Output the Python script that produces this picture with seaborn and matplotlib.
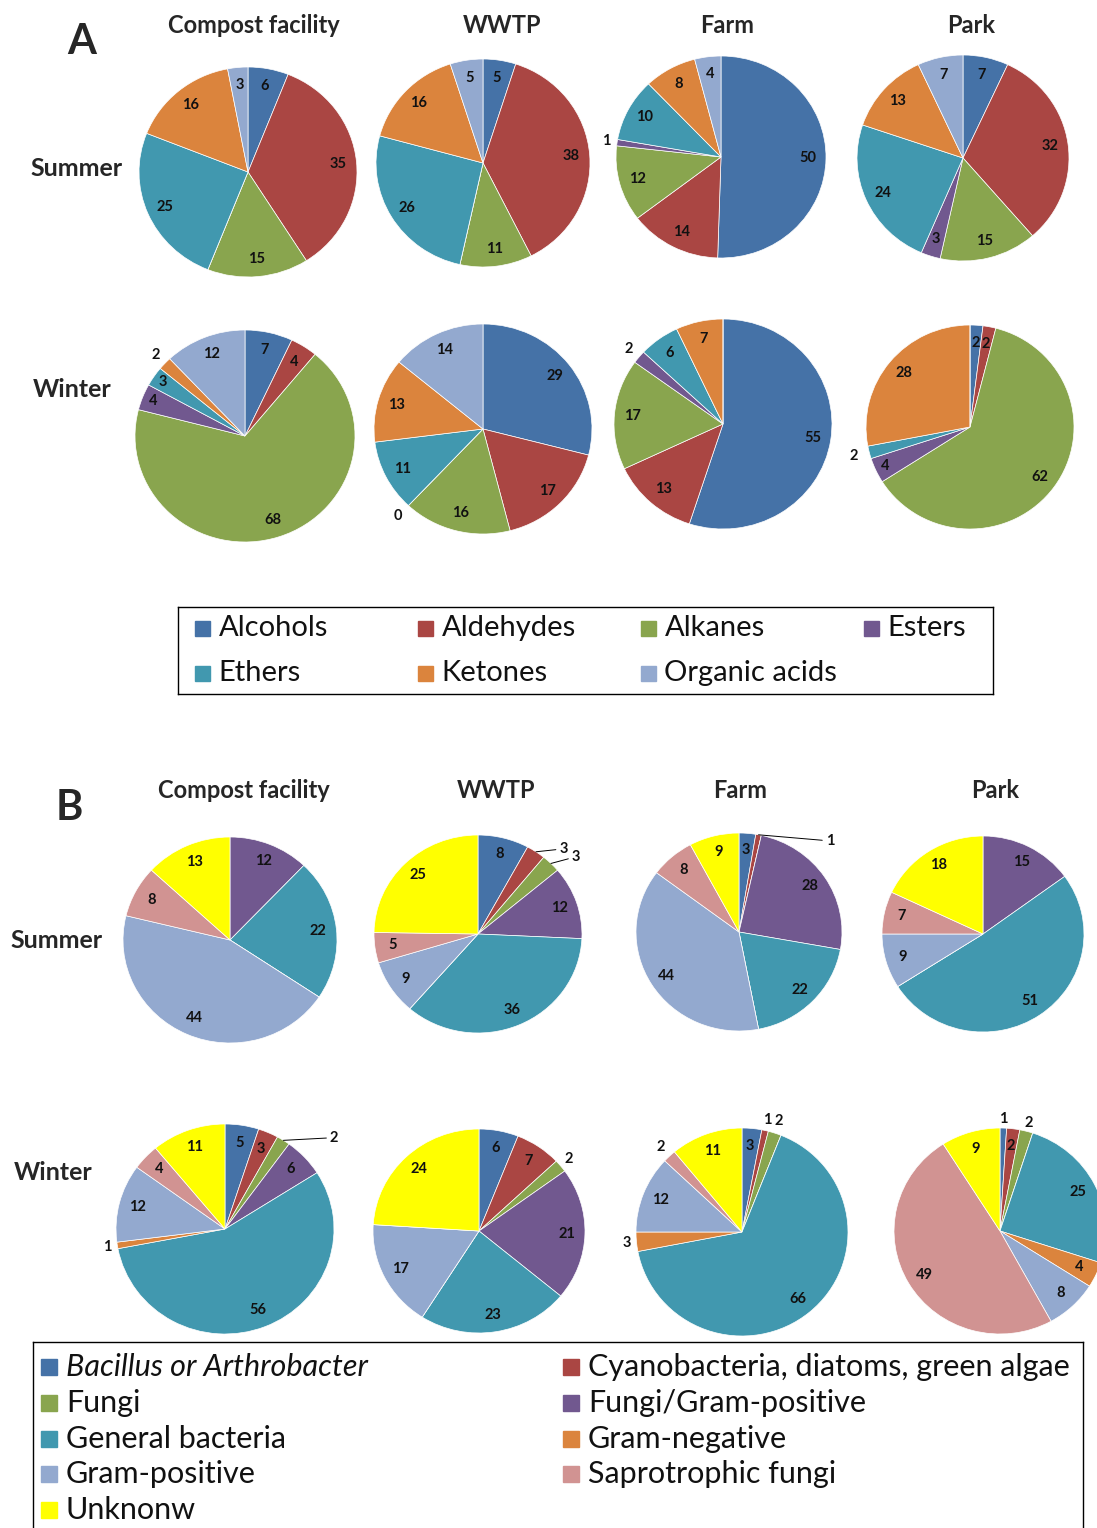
import numpy as np
import matplotlib.pyplot as plt
from matplotlib.patches import Rectangle
import seaborn as sns

sns.set_theme(style='white')
plt.rcParams['font.family'] = ['Lato', 'DejaVu Sans']

W, H = 1097, 1528

sites = ['Compost facility', 'WWTP', 'Farm', 'Park']
seasons = ['Summer', 'Winter']

# A: chemical groups of the VOCs (%)
voc_groups = ['Alcohols', 'Aldehydes', 'Alkanes', 'Esters', 'Ethers', 'Ketones', 'Organic acids']
voc_summer = [[6, 35, 15, 0, 25, 16, 3],
              [5, 38, 11, 0, 26, 16, 5],
              [50, 14, 12, 1, 10, 8, 4],
              [7, 32, 15, 3, 24, 13, 7]]
voc_winter = [[7, 4, 68, 4, 3, 2, 12],
              [29, 17, 16, 0, 11, 13, 14],
              [55, 13, 17, 2, 6, 7, 0],
              [2, 2, 62, 4, 2, 28, 0]]

# B: microbial origin of the MVOCs (%)
mvoc_groups = ['Bacillus or Arthrobacter', 'Cyanobacteria, diatoms, green algae', 'Fungi',
               'Fungi/Gram-positive', 'General bacteria', 'Gram-negative', 'Gram-positive',
               'Saprotrophic fungi', 'Unknonw']
mvoc_summer = [[0, 0, 0, 12, 22, 0, 44, 8, 13],
               [8, 3, 3, 12, 36, 0, 9, 5, 25],
               [3, 1, 0, 28, 22, 0, 44, 8, 9],
               [0, 0, 0, 15, 51, 0, 9, 7, 18]]
mvoc_winter = [[5, 3, 2, 6, 56, 1, 12, 4, 11],
               [6, 7, 2, 21, 23, 0, 17, 0, 24],
               [3, 1, 2, 0, 66, 3, 12, 2, 11],
               [1, 2, 2, 0, 25, 4, 8, 49, 9]]

excel = ['#4572A7', '#AA4643', '#89A54E', '#71588F', '#4198AF', '#DB843D', '#93A9CF']
voc_colors = excel
mvoc_colors = excel[:4] + ['#4198AF', '#DB843D', '#93A9CF', '#D19392', '#FFFF00']

# pie layout in pixels: centre x, centre y, radius x, radius y
pie_px = {
    ('A', 'Summer'): [(248, 172, 109, 105), (483, 163, 107, 104), (721, 157, 105, 101), (963, 158, 106, 103)],
    ('A', 'Winter'): [(245, 436, 110, 106), (483, 429, 109, 105), (723, 424, 109, 105), (970, 427, 104, 102)],
    ('B', 'Summer'): [(230, 940, 107, 103), (478, 934, 104, 99), (739, 932, 103, 99), (983, 934, 101, 98)],
    ('B', 'Winter'): [(225, 1229, 109, 105), (479, 1231, 106, 102), (742, 1232, 106, 104), (1000, 1231, 106, 103)],
}

# labels that sit away from the default radius
label_dist = {
    ('A', 'Summer', 2): {3: 1.1},
    ('A', 'Winter', 0): {3: 0.9, 4: 0.9, 5: 1.12},
    ('A', 'Winter', 1): {3: 1.14},
    ('A', 'Winter', 2): {3: 1.12},
    ('A', 'Winter', 3): {3: 0.9, 4: 1.15},
    ('B', 'Winter', 0): {5: 1.09},
    ('B', 'Winter', 1): {2: 1.1},
    ('B', 'Winter', 2): {1: 1.1, 2: 1.12, 5: 1.09, 7: 1.12},
    ('B', 'Winter', 3): {0: 1.09, 2: 1.08},
}
# labels with a leader line: slice index, text position (axes units)
leaders = {
    ('B', 'Summer', 1): [(1, 0.78, 0.86), (2, 0.90, 0.78)],
    ('B', 'Summer', 2): [(1, 0.84, 0.92)],
    ('B', 'Winter', 0): [(2, 0.96, 0.87)],
}


def px_rect(x0, y0, x1, y1):
    return [x0 / W, 1 - y1 / H, (x1 - x0) / W, (y1 - y0) / H]


fig = plt.figure(figsize=(W / 100, H / 100), dpi=100)
lab_kw = dict(fontsize=10.5, fontweight='bold', color='#111111')


def draw_pie(panel, season, j, vals, colors):
    cx, cy, rx, ry = pie_px[(panel, season)][j]
    ax = fig.add_axes(px_rect(cx - rx, cy - ry, cx + rx, cy + ry))
    wedges, _ = ax.pie(vals, colors=colors, startangle=90, counterclock=False,
                       wedgeprops=dict(edgecolor='white', linewidth=0.5))
    ax.set_aspect('auto')
    ax.set_xlim(-1, 1)
    ax.set_ylim(-1, 1)
    ax.axis('off')
    key = (panel, season, j)
    dist = label_dist.get(key, {})
    lead = {i: (x, y) for i, x, y in leaders.get(key, [])}
    for i, (w, v) in enumerate(zip(wedges, vals)):
        if v == 0 and i not in dist:
            continue
        th = np.deg2rad((w.theta1 + w.theta2) / 2)
        if i in lead:
            ax.annotate(str(v), xy=(np.cos(th), np.sin(th)), xytext=lead[i],
                        ha='left', va='center', **lab_kw,
                        arrowprops=dict(arrowstyle='-', color='black', lw=0.7,
                                        shrinkA=0, shrinkB=0))
        else:
            d = dist.get(i, 0.83)
            ax.text(d * np.cos(th), d * np.sin(th), str(v), ha='center', va='center', **lab_kw)


for j in range(4):
    draw_pie('A', 'Summer', j, voc_summer[j], voc_colors)
    draw_pie('A', 'Winter', j, voc_winter[j], voc_colors)
    draw_pie('B', 'Summer', j, mvoc_summer[j], mvoc_colors)
    draw_pie('B', 'Winter', j, mvoc_winter[j], mvoc_colors)


def ftext(x, y, s, **kw):
    fig.text(x / W, 1 - y / H, s, **kw)


title_kw = dict(fontsize=17, fontweight='bold', ha='center', va='baseline')
for name, xa, xb in zip(sites, [254, 502, 727, 971], [244, 496, 740, 995]):
    ftext(xa, 33, name, **title_kw)
    ftext(xb, 798, name, **title_kw)

row_kw = dict(fontsize=18, fontweight='bold', ha='left', va='baseline')
ftext(30, 176, 'Summer', **row_kw)
ftext(33, 397, 'Winter', **row_kw)
ftext(10, 948, 'Summer', **row_kw)
ftext(14, 1180, 'Winter', **row_kw)

ftext(82, 42, 'A', fontsize=30, fontweight='bold', ha='center', va='center')
ftext(69, 808, 'B', fontsize=30, fontweight='bold', ha='center', va='center')


def draw_legend(box, names, colors, ncol, x0, dx, y0, dy, sq, fs, italic=()):
    bx0, by0, bx1, by1 = box
    lax = fig.add_axes(px_rect(bx0, by0, bx1, by1))
    lax.set_xlim(bx0, bx1)
    lax.set_ylim(by1, by0)
    lax.set_xticks([])
    lax.set_yticks([])
    for s in lax.spines.values():
        s.set_color('black')
        s.set_linewidth(1.0)
    for k, (name, c) in enumerate(zip(names, colors)):
        mx = x0 + (k % ncol) * dx
        my = y0 + (k // ncol) * dy
        lax.add_patch(Rectangle((mx - sq / 2, my - sq / 2), sq, sq, color=c))
        lax.text(mx + sq / 2 + 9, my, name, fontsize=fs, va='center', ha='left',
                 color='#111111', fontstyle='italic' if k in italic else 'normal')


draw_legend((178, 607, 993, 694), voc_groups, voc_colors, 4, 202, 223, 628, 45, 15, 21)
draw_legend((33, 1342, 1083, 1570), mvoc_groups, mvoc_colors, 2, 49, 522, 1367, 35.8, 16, 22,
            italic=(0,))

fig.savefig('out.png', dpi=100)
